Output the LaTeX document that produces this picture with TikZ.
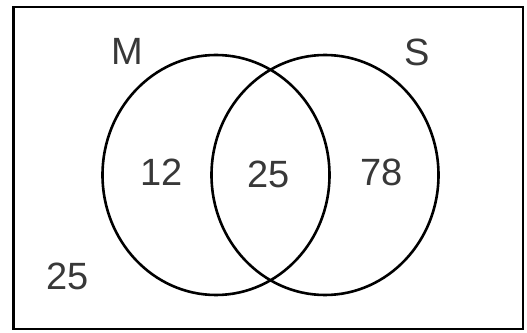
\documentclass[tikz,border=0pt]{standalone}
\usepackage{fontspec}
\setmainfont{Liberation Sans}
\usepackage{xcolor}
\usepackage{tikz}
\usetikzlibrary{positioning}

\begin{document}
\begin{tikzpicture}[
  x=1pt, y=1pt,
  setline/.style={draw=black, line width=2.6pt},
  setlabel/.style={font=\fontsize{38}{40}\selectfont, text=black!78, inner sep=0pt},
  count/.style={font=\fontsize{38}{40}\selectfont, text=black!78, inner sep=0pt}
]
  \useasboundingbox (0,0) rectangle (527,332);
  % universe
  \draw[setline, line width=2.2pt] (13.5,3) rectangle (523,325);
  % the two sets
  \coordinate (mc) at (216,157);
  \coordinate (sc) at (325,157);
  \draw[setline] (mc) ellipse [x radius=113.5, y radius=120];
  \draw[setline] (sc) ellipse [x radius=113.5, y radius=120];
  % labels
  \node[setlabel] (mlab) at (127.7,281) {M};
  \node[setlabel] (slab) at (416.8,280) {S};
  \node[count] (monly) at (161.3,159.5) {12};
  \node[count] (both)  at (269,158)     {25};
  \node[count] (sonly) at (381.5,160)   {78};
  \node[count] (none)  at (67.2,55.3)   {25};
\end{tikzpicture}
\end{document}
